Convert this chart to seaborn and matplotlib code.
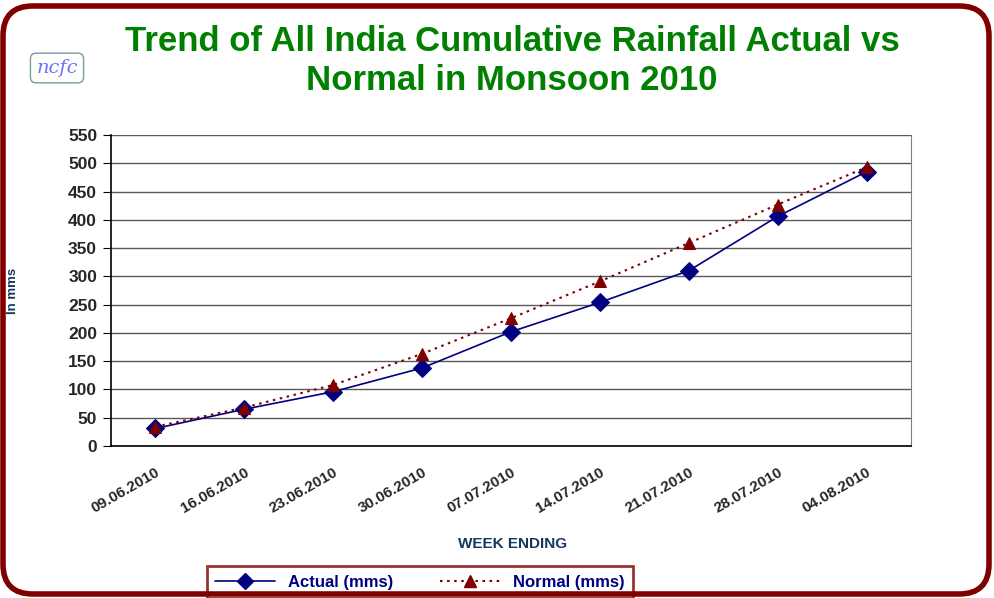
import numpy as np
import pandas as pd
import matplotlib
matplotlib.use('Agg')
import matplotlib.pyplot as plt
import seaborn as sns
from matplotlib.patches import FancyBboxPatch
from matplotlib.lines import Line2D

# ---- data ----
weeks = ['09.06.2010', '16.06.2010', '23.06.2010', '30.06.2010', '07.07.2010',
         '14.07.2010', '21.07.2010', '28.07.2010', '04.08.2010']
actual = [31, 65, 96, 138, 202, 254, 310, 406, 485]
normal = [34, 68, 108, 163, 226, 291, 359, 427, 493]
y_ticks = [0, 50, 100, 150, 200, 250, 300, 350, 400, 450, 500, 550]

df = pd.DataFrame({'week': weeks, 'Actual (mms)': actual, 'Normal (mms)': normal})

sns.set_style('white')
plt.rcParams['font.family'] = ['Liberation Sans', 'DejaVu Sans']

fig = plt.figure(figsize=(9.95, 5.98), dpi=100)
ax = fig.add_axes([111/995, 1-446/598, 800/995, 311/598])

navy = '#000080'
maroon = '#800000'
label_blue = '#17375E'

sns.lineplot(data=df, x='week', y='Actual (mms)', ax=ax, sort=False,
             color=navy, lw=1.2, marker='D', markersize=9,
             markeredgecolor=navy, markerfacecolor=navy)
sns.lineplot(data=df, x='week', y='Normal (mms)', ax=ax, sort=False,
             color=maroon, lw=1.5, linestyle=(0, (1.2, 2.2)), marker='^',
             markersize=8, markeredgecolor=maroon, markerfacecolor=maroon)

n = len(weeks)
ax.set_xlim(-0.5, n - 0.5)
ax.set_ylim(0, 550)
ax.set_yticks(y_ticks)
ax.set_yticklabels([str(v) for v in y_ticks], fontsize=12.5, fontweight='bold')
ax.grid(axis='y', color='#5a5a5a', lw=1)
ax.set_axisbelow(True)

# category labels centered, tick marks on boundaries
ax.set_xticks(np.arange(n))
ax.set_xticklabels(weeks, rotation=30, ha='right', rotation_mode='anchor',
                   fontsize=11, fontweight='bold')
ax.tick_params(axis='x', which='major', length=0, pad=14)
ax.set_xticks(np.arange(n + 1) - 0.5, minor=True)
ax.tick_params(axis='x', which='minor', length=5, color='black', direction='out')
ax.tick_params(axis='y', length=6, color='black', direction='out', left=True, pad=4)

for s in ['left', 'bottom']:
    ax.spines[s].set_color('black')
    ax.spines[s].set_linewidth(1.2)
ax.spines['right'].set_color('#808080')
ax.spines['top'].set_visible(False)

ax.set_xlabel('WEEK ENDING', fontsize=11, fontweight='bold', color=label_blue)
ax.xaxis.set_label_coords(402/800, -(537-446)/311)
ax.set_ylabel('In mms', fontsize=9.5, fontweight='bold', color=label_blue)
ax.yaxis.set_label_coords(-(111-19)/800, 0.5)

# title
fig.text(512/995, 1-61/598, 'Trend of All India Cumulative Rainfall Actual vs\nNormal in Monsoon 2010',
         ha='center', va='center', fontsize=25, fontweight='bold', color='#008000',
         linespacing=1.25)

# logo
fig.text(57/995, 1-68/598, 'ncfc', ha='center', va='center', fontsize=14,
         family='DejaVu Serif', style='italic', color='#7070ff',
         bbox=dict(boxstyle='round,pad=0.3', fc='white', ec='#7a9aa0', lw=1))

# legend
handles = [
    Line2D([], [], color=navy, lw=1.2, marker='D', markersize=8,
           markerfacecolor=navy, markeredgecolor=navy),
    Line2D([], [], color=maroon, lw=1.5, linestyle=(0, (1.2, 2.2)), marker='^',
           markersize=8, markerfacecolor=maroon, markeredgecolor=maroon),
]
leg = fig.legend(handles, ['Actual (mms)', 'Normal (mms)'], loc='center',
                 bbox_to_anchor=(420/995, 1-582/598), ncol=2, frameon=True,
                 fancybox=False, edgecolor=maroon, fontsize=12,
                 handlelength=3.6, columnspacing=2.8, borderpad=0.5)
leg.get_frame().set_linewidth(2)
for t in leg.get_texts():
    t.set_color(navy)
    t.set_fontweight('bold')

# rounded border
border = FancyBboxPatch((3/995, 4/598), 986/995, 588/598,
                        boxstyle='round,pad=0,rounding_size=0.03',
                        transform=fig.transFigure, fill=False, ec=maroon, lw=4,
                        mutation_aspect=995/598, zorder=10)
fig.patches.append(border)

fig.savefig('out.png', dpi=100)
